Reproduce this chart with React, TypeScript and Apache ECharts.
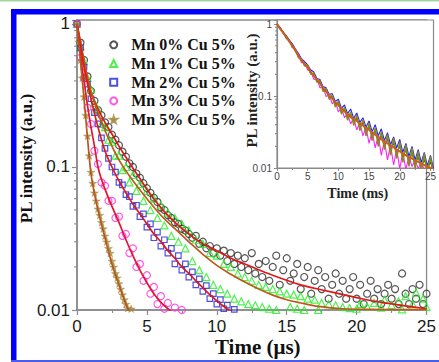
import React, { useEffect, useRef } from 'react';
import * as echarts from 'echarts';

const SANS = '"Liberation Sans", Arial, sans-serif';
const SERIF = '"Liberation Serif", "Times New Roman", serif';

const LEGEND_NAMES = ['Mn 0% Cu 5%', 'Mn 1% Cu 5%', 'Mn 2% Cu 5%', 'Mn 3% Cu 5%', 'Mn 5% Cu 5%'];

// main plot: time (µs)
const T_MAIN = [0, 0.25, 0.5, 0.75, 1, 1.25, 1.5, 1.75, 2, 2.25, 2.5, 2.75, 3, 3.25, 3.5, 3.75, 4, 4.25, 4.5, 4.75,
  5, 5.25, 5.5, 5.75, 6, 6.25, 6.5, 6.75, 7, 7.25, 7.5, 7.75, 8, 8.25, 8.5, 8.75, 9, 9.25, 9.5, 9.75,
  10, 10.25, 10.5, 10.75, 11, 11.25, 11.5, 11.75, 12, 12.25, 12.5, 12.75, 13, 13.25, 13.5, 13.75, 14, 14.25, 14.5, 14.75,
  15, 15.25, 15.5, 15.75, 16, 16.25, 16.5, 16.75, 17, 17.25, 17.5, 17.75, 18, 18.25, 18.5, 18.75, 19, 19.25, 19.5, 19.75,
  20, 20.25, 20.5, 20.75, 21, 21.25, 21.5, 21.75, 22, 22.25, 22.5, 22.75, 23, 23.25, 23.5, 23.75, 24, 24.25, 24.5, 24.75, 25];

const MN0 = [1.0, 0.74, 0.56, 0.43, 0.34, 0.29, 0.25, 0.23, 0.205, 0.19, 0.168, 0.155, 0.142, 0.128, 0.118, 0.106, 0.1, 0.09, 0.084, 0.077,
  0.071, 0.066, 0.061, 0.057, 0.052, 0.05, 0.046, 0.044, 0.041, 0.04, 0.037, 0.036, 0.034, 0.032, 0.033, 0.029, 0.03, 0.027, 0.028, 0.025,
  0.027, 0.024, 0.026, 0.022, 0.025, 0.021, 0.024, 0.02, 0.023, 0.019, 0.025, 0.018, 0.021, 0.017, 0.022, 0.016, 0.02, 0.024, 0.015, 0.019,
  0.023, 0.016, 0.018, 0.021, 0.014, 0.017, 0.02, 0.013, 0.016, 0.019, 0.014, 0.017, 0.012, 0.015, 0.018, 0.013, 0.016, 0.012, 0.014, 0.017,
  0.012, 0.015, 0.011, 0.013, 0.016, 0.012, 0.014, 0.011, 0.013, 0.015, 0.012, 0.014, 0.011, 0.018, 0.013, 0.011, 0.014, 0.012, 0.015, 0.011, 0.013];

const MN1 = [1.0, 0.7, 0.55, 0.42, 0.35, 0.28, 0.25, 0.2, 0.19, 0.155, 0.15, 0.12, 0.12, 0.095, 0.1, 0.078, 0.088, 0.068, 0.076, 0.058,
  0.068, 0.05, 0.06, 0.044, 0.054, 0.039, 0.048, 0.033, 0.044, 0.03, 0.04, 0.027, 0.036, 0.022, 0.031, 0.019, 0.029, 0.017, 0.025, 0.015,
  0.024, 0.014, 0.021, 0.013, 0.02, 0.012, 0.018, 0.0115, 0.017, 0.011, 0.016, 0.0108, 0.015, 0.0105, 0.0145, 0.0102, 0.014, 0.01, 0.0135, 0.0099,
  0.013, 0.0105, 0.0128, 0.0102, 0.0125, 0.01, 0.012, 0.0098, 0.0118, 0.01, 0.0112, 0.0097, 0.011, 0.0098, 0.0108, 0.0096, 0.0105, 0.0099, 0.0103, 0.0096,
  0.0102, 0.011, 0.0097, 0.0106, 0.0099, 0.0112, 0.0096, 0.0104, 0.0118, 0.0098, 0.0108, 0.0097, 0.0115, 0.0101, 0.0125, 0.0098, 0.011, 0.0132, 0.0099, 0.012, 0.0105];

const MN2 = [1, 0.68, 0.5, 0.38, 0.3, 0.24, 0.2, 0.16, 0.135, 0.115, 0.1, 0.092, 0.078, 0.075, 0.064, 0.062, 0.053, 0.054, 0.045, 0.047,
  0.038, 0.04, 0.032, 0.035, 0.028, 0.031, 0.025, 0.027, 0.021, 0.024, 0.019, 0.021, 0.017, 0.0185, 0.015, 0.0165, 0.0135, 0.0148, 0.012, 0.013,
  0.011, 0.0118, 0.0102, 0.0108, 0.0098, 0.0101];

const MN3 = [1, 0.58, 0.42, 0.26, 0.2, 0.13, 0.105, 0.078, 0.074, 0.058, 0.058, 0.044, 0.045, 0.033, 0.034, 0.025, 0.027, 0.02, 0.021, 0.016,
  0.0175, 0.013, 0.0145, 0.011, 0.0125, 0.0102, 0.0112, 0.0098, 0.0104, 0.0097, 0.01];

const T_STAR = [0, 0.125, 0.25, 0.375, 0.5, 0.625, 0.75, 0.875, 1, 1.125, 1.25, 1.375, 1.5, 1.625, 1.75, 1.875, 2, 2.125, 2.25, 2.375,
  2.5, 2.625, 2.75, 2.875, 3, 3.125, 3.25, 3.375, 3.5, 3.625, 3.75, 3.875, 4];
const MN5 = [1, 0.75, 0.56, 0.42, 0.31, 0.23, 0.165, 0.12, 0.092, 0.077, 0.066, 0.058, 0.051, 0.046, 0.041, 0.037, 0.033, 0.03, 0.027, 0.025,
  0.022, 0.02, 0.018, 0.0168, 0.0153, 0.014, 0.0128, 0.0118, 0.011, 0.0103, 0.0097, 0.0102, 0.0098];

// fitted curves
const FIT0_T = [0, 0.25, 0.5, 0.75, 1, 1.5, 2, 2.5, 3, 3.5, 4, 4.5, 5, 6, 7, 8, 9, 10, 11, 12, 14, 16, 18, 20, 22, 25];
const FIT0_V = [1, 0.75, 0.55, 0.42, 0.33, 0.255, 0.205, 0.17, 0.14, 0.117, 0.098, 0.083, 0.07, 0.052, 0.041, 0.034, 0.029, 0.026, 0.023, 0.021, 0.0175, 0.015, 0.0135, 0.0122, 0.0112, 0.0102];
const FIT1_T = [0, 0.5, 1, 1.5, 2, 2.5, 3, 3.5, 4, 5, 6, 7, 8, 9, 10, 11, 12, 13, 14, 15, 16, 17, 18, 19, 21, 25];
const FIT1_V = [1, 0.55, 0.34, 0.24, 0.18, 0.14, 0.112, 0.094, 0.08, 0.06, 0.046, 0.037, 0.03, 0.0245, 0.0205, 0.0178, 0.0157, 0.014, 0.0127, 0.0118, 0.0112, 0.0107, 0.0104, 0.0102, 0.0101, 0.01005];
const FIT2_T = [0, 0.5, 1, 1.5, 2, 2.5, 3, 3.5, 4, 4.5, 5, 5.5, 6, 6.5, 7, 7.5, 8, 8.5, 9, 9.5, 10, 10.5, 11, 11.5];
const FIT2_V = [1, 0.5, 0.3, 0.19, 0.13, 0.1, 0.08, 0.066, 0.055, 0.047, 0.04, 0.034, 0.03, 0.026, 0.023, 0.02, 0.018, 0.016, 0.0143, 0.0128, 0.0116, 0.0106, 0.0098, 0.0092];
const FIT3_T = [0, 0.25, 0.5, 0.75, 1, 1.25, 1.5, 1.75, 2, 2.5, 3, 3.5, 4, 4.5, 5, 5.5, 6, 6.5, 7, 7.5];
const FIT3_V = [1, 0.6, 0.4, 0.27, 0.19, 0.14, 0.1, 0.082, 0.07, 0.053, 0.041, 0.031, 0.024, 0.019, 0.0155, 0.013, 0.0113, 0.0102, 0.0094, 0.0088];
const FIT5_T = [0, 0.25, 0.5, 0.75, 1, 1.25, 1.5, 2, 2.5, 3, 3.5, 3.75, 4];
const FIT5_V = [1, 0.55, 0.3, 0.16, 0.09, 0.065, 0.05, 0.032, 0.021, 0.015, 0.011, 0.0097, 0.0088];

// inset: time (ms)
const T_INSET = [0, 0.5, 1, 1.5, 2, 2.5, 3, 3.5, 4, 4.5, 5, 5.5, 6, 6.5, 7, 7.5, 8, 8.5, 9, 9.5, 10, 10.5, 11, 11.5, 12, 12.5,
  13, 13.5, 14, 14.5, 15, 15.5, 16, 16.5, 17, 17.5, 18, 18.5, 19, 19.5, 20, 20.5, 21, 21.5, 22, 22.5, 23, 23.5, 24, 24.5, 25, 25.5];
const INS_FIT = [1, 0.87, 0.76, 0.66, 0.58, 0.5, 0.43, 0.36, 0.31, 0.28, 0.25, 0.215, 0.19, 0.17, 0.15, 0.13, 0.115, 0.102, 0.092, 0.082, 0.074, 0.067, 0.061, 0.056, 0.051, 0.048,
  0.045, 0.042, 0.039, 0.036, 0.034, 0.031, 0.029, 0.027, 0.025, 0.0235, 0.022, 0.0207, 0.0194, 0.018, 0.017, 0.016, 0.015, 0.0142, 0.0135, 0.0128, 0.0122, 0.0116, 0.011, 0.0105, 0.01, 0.0096];
const INS_MN0 = [1, 0.87, 0.77, 0.65, 0.59, 0.49, 0.44, 0.35, 0.32, 0.27, 0.26, 0.205, 0.2, 0.16, 0.155, 0.125, 0.12, 0.097, 0.096, 0.078, 0.078, 0.063, 0.065, 0.052, 0.055, 0.044,
  0.048, 0.039, 0.042, 0.033, 0.037, 0.028, 0.032, 0.024, 0.028, 0.021, 0.025, 0.018, 0.022, 0.016, 0.02, 0.014, 0.018, 0.0125, 0.016, 0.0115, 0.0142, 0.0105, 0.013, 0.0098, 0.012, 0.0092];
const INS_MN1 = [1, 0.86, 0.75, 0.65, 0.57, 0.49, 0.44, 0.35, 0.32, 0.27, 0.255, 0.205, 0.195, 0.16, 0.155, 0.122, 0.12, 0.095, 0.097, 0.076, 0.079, 0.061, 0.066, 0.05, 0.056, 0.043,
  0.05, 0.037, 0.044, 0.031, 0.039, 0.027, 0.034, 0.023, 0.03, 0.02, 0.027, 0.017, 0.024, 0.015, 0.021, 0.0135, 0.019, 0.012, 0.017, 0.011, 0.0155, 0.0102, 0.014, 0.0097, 0.013, 0.0093];
const INS_MN2 = [1, 0.9, 0.77, 0.69, 0.6, 0.53, 0.45, 0.39, 0.33, 0.3, 0.27, 0.23, 0.215, 0.175, 0.17, 0.135, 0.13, 0.105, 0.108, 0.084, 0.09, 0.068, 0.075, 0.057, 0.066, 0.049,
  0.058, 0.043, 0.05, 0.037, 0.045, 0.032, 0.04, 0.028, 0.035, 0.024, 0.031, 0.021, 0.027, 0.019, 0.025, 0.0165, 0.022, 0.0145, 0.02, 0.013, 0.018, 0.012, 0.0165, 0.0108, 0.015, 0.0098];
const INS_MN3 = [1, 0.88, 0.74, 0.67, 0.56, 0.51, 0.41, 0.37, 0.29, 0.29, 0.23, 0.22, 0.17, 0.175, 0.13, 0.135, 0.098, 0.105, 0.078, 0.085, 0.06, 0.069, 0.05, 0.057, 0.041, 0.049,
  0.034, 0.043, 0.028, 0.037, 0.022, 0.032, 0.019, 0.028, 0.015, 0.024, 0.013, 0.021, 0.011, 0.0185, 0.0098, 0.0165, 0.0095, 0.0145, 0.0105, 0.013, 0.0098, 0.012, 0.0095, 0.0108, 0.0092, 0.0098];
const INS_MN5 = [1, 0.85, 0.78, 0.63, 0.6, 0.47, 0.45, 0.34, 0.33, 0.26, 0.27, 0.2, 0.21, 0.155, 0.165, 0.115, 0.128, 0.09, 0.104, 0.07, 0.085, 0.056, 0.07, 0.046, 0.06, 0.039,
  0.054, 0.033, 0.047, 0.028, 0.042, 0.024, 0.036, 0.02, 0.032, 0.018, 0.029, 0.015, 0.026, 0.0135, 0.023, 0.012, 0.021, 0.0105, 0.019, 0.0098, 0.017, 0.009, 0.016, 0.0085, 0.0145, 0.008];

const MINOR_Y = [0.02, 0.03, 0.04, 0.05, 0.06, 0.07, 0.08, 0.09, 0.2, 0.3, 0.4, 0.5, 0.6, 0.7, 0.8, 0.9];

const zip = (t: number[], v: number[]) => v.map((y, i) => [t[i], y]);

const powLabel = (v: number) => {
  const l = Math.log10(v);
  return Math.abs(l - Math.round(l)) < 1e-6 ? String(+v.toPrecision(1)) : '';
};

const AXIS_GRAY = '#8a8a8a';
const STAR = 'path://M50,0 L61,35 L98,35 L68,57 L79,91 L50,70 L21,91 L32,57 L2,35 L39,35 Z';

export default function App() {
  const ref = useRef<HTMLDivElement>(null);
  useEffect(() => {
    const chart = echarts.init(ref.current!, null, { renderer: 'svg' });

    const scatter = (name: string, data: number[][], symbol: string, size: number, color: string, filled = false) => ({
      type: 'scatter', name, data, xAxisIndex: 0, yAxisIndex: 0, symbol, symbolSize: size, symbolKeepAspect: true, z: 2,
      itemStyle: filled ? { color, borderColor: color, borderWidth: 0.5 } : { color: 'rgba(255,255,255,0)', borderColor: color, borderWidth: 1.2 },
    });
    const fit = (name: string, data: number[][], color: string) => ({
      type: 'line', name, data, xAxisIndex: 0, yAxisIndex: 0, showSymbol: false, smooth: 0.4, z: 3,
      lineStyle: { color, width: 1.7 },
    });
    const insetLine = (name: string, data: number[][], color: string, width = 1.1) => ({
      type: 'line', name, data, xAxisIndex: 1, yAxisIndex: 1, showSymbol: false, z: 4,
      lineStyle: { color, width },
    });
    const minorTicks = (axis: number, len: number) => ({
      type: 'custom', xAxisIndex: axis, yAxisIndex: axis, clip: false, z: 5, silent: true,
      data: MINOR_Y.map((v) => [0, v]),
      renderItem: (_p: any, api: any) => {
        const p = api.coord([0, api.value(1)]);
        return { type: 'line', shape: { x1: p[0] - len, y1: p[1], x2: p[0], y2: p[1] }, style: { stroke: AXIS_GRAY, lineWidth: 1.1 } };
      },
    });

    const option: any = {
      animation: false,
      backgroundColor: '#fff',
      grid: [
        { left: 77, top: 20, width: 356, height: 291, show: true, borderColor: AXIS_GRAY, borderWidth: 1.3, backgroundColor: 'rgba(0,0,0,0)' },
        { left: 277, top: 20, width: 159, height: 148, show: true, borderColor: AXIS_GRAY, borderWidth: 1.2, backgroundColor: '#fff' },
      ],
      legend: {
        data: LEGEND_NAMES, orient: 'vertical', left: 109.2, top: 36.8, padding: 0,
        itemWidth: 7, itemHeight: 7, itemGap: 2.7,
        formatter: (n: string) => `{g|}${n}`,
        textStyle: {
          fontFamily: SERIF, fontWeight: 'bold', fontSize: 16, lineHeight: 16, color: '#111',
          rich: { g: { width: 9 } },
        },
      },
      xAxis: [
        {
          type: 'value', gridIndex: 0, min: 0, max: 25, interval: 5,
          axisLine: { onZero: false, lineStyle: { color: AXIS_GRAY, width: 1.6 } },
          axisTick: { length: 5, lineStyle: { color: AXIS_GRAY, width: 1.2 } },
          minorTick: { show: true, splitNumber: 2, length: 3, lineStyle: { color: AXIS_GRAY, width: 1.1 } },
          splitLine: { show: false },
          axisLabel: { fontFamily: SANS, fontSize: 17, color: '#1a1a1a', margin: 8 },
          name: 'Time (μs)', nameLocation: 'middle', nameGap: 26, nameMoveOverlap: false,
          nameTextStyle: { fontFamily: SERIF, fontWeight: 'bold', fontSize: 21, color: '#111', padding: [0, 0, 0, 12] },
        },
        {
          type: 'value', gridIndex: 1, min: 0, max: 25.5, interval: 5,
          axisLine: { onZero: false, lineStyle: { color: AXIS_GRAY, width: 1.2 } },
          axisTick: { length: 3, lineStyle: { color: AXIS_GRAY, width: 1 } },
          minorTick: { show: true, splitNumber: 2, length: 2, lineStyle: { color: AXIS_GRAY, width: 1 } },
          splitLine: { show: false },
          axisLabel: { fontFamily: SANS, fontSize: 10, color: '#444', margin: 3, formatter: (v: number) => (v % 5 === 0 ? String(v) : '') },
          name: 'Time (ms)', nameLocation: 'middle', nameGap: 18, nameMoveOverlap: false,
          nameTextStyle: { fontFamily: SERIF, fontWeight: 'bold', fontSize: 14, color: '#222', padding: [0, 0, 0, 5] },
        },
      ],
      yAxis: [
        {
          type: 'log', logBase: 10, gridIndex: 0, min: 0.01, max: 1.066,
          axisLine: { show: true, lineStyle: { color: AXIS_GRAY, width: 1.6 } },
          axisTick: { show: true, length: 5, lineStyle: { color: AXIS_GRAY, width: 1.2 } },
          splitLine: { show: false },
          axisLabel: { fontFamily: SANS, fontSize: 17, color: '#1a1a1a', margin: 7, formatter: powLabel },
          name: 'PL intensity (a.u.)', nameLocation: 'middle', nameGap: 42.5, nameRotate: 90, nameMoveOverlap: false,
          nameTextStyle: { fontFamily: SERIF, fontWeight: 'bold', fontSize: 17, color: '#111', padding: [0, 0, 0, 13] },
        },
        {
          type: 'log', logBase: 10, gridIndex: 1, min: 0.01, max: 1.137,
          axisLine: { show: true, lineStyle: { color: AXIS_GRAY, width: 1.2 } },
          axisTick: { show: true, length: 3, lineStyle: { color: AXIS_GRAY, width: 1 } },
          splitLine: { show: false },
          axisLabel: { fontFamily: SANS, fontSize: 10, color: '#444', margin: 5, formatter: powLabel },
          name: 'PL intensity (a.u.)', nameLocation: 'middle', nameGap: 18, nameRotate: 90, nameMoveOverlap: false,
          nameTextStyle: { fontFamily: SERIF, fontWeight: 'bold', fontSize: 15, color: '#222', padding: [0, 0, 0, 7] },
        },
      ],
      series: [
        scatter(LEGEND_NAMES[0], zip(T_MAIN, MN0), 'circle', 7, '#2b2b2b'),
        scatter(LEGEND_NAMES[1], zip(T_MAIN, MN1), 'triangle', 7, '#22ee22'),
        scatter(LEGEND_NAMES[2], zip(T_MAIN, MN2), 'rect', 5.5, '#2222d8'),
        scatter(LEGEND_NAMES[3], zip(T_MAIN, MN3), 'circle', 7, '#ff2ee0'),
        scatter(LEGEND_NAMES[4], zip(T_STAR, MN5), STAR, 8, '#a08a3c', true),
        fit('fit0', zip(FIT0_T, FIT0_V), '#e01818'),
        fit('fit1', zip(FIT1_T, FIT1_V), '#c0581a'),
        fit('fit2', zip(FIT2_T, FIT2_V), '#e01818'),
        fit('fit3', zip(FIT3_T, FIT3_V), '#e01830'),
        fit('fit5', zip(FIT5_T, FIT5_V), '#b8561c'),
        minorTicks(0, 3),
        insetLine('i0', zip(T_INSET, INS_MN0), '#333333'),
        insetLine('i1', zip(T_INSET, INS_MN1), '#22cc22'),
        insetLine('i2', zip(T_INSET, INS_MN2), '#2222ff'),
        insetLine('i3', zip(T_INSET, INS_MN3), '#ff22ff'),
        insetLine('i5', zip(T_INSET, INS_MN5), '#8c8a10', 1.4),
        insetLine('ifit', zip(T_INSET, INS_FIT), '#c8601c', 2),
        minorTicks(1, 2),
      ],
      graphic: [
        { type: 'rect', shape: { x: 0, y: 0, width: 439, height: 1.5 }, style: { fill: '#a3d3a3' } },
        { type: 'rect', shape: { x: 11, y: 9, width: 428, height: 5.5 }, style: { fill: '#0000ff' } },
        { type: 'rect', shape: { x: 11, y: 9, width: 5.5, height: 353 }, style: { fill: '#0000ff' } },
        { type: 'rect', shape: { x: 11, y: 360, width: 428, height: 2 }, style: { fill: '#4a5cf0' } },
      ],
    };
    chart.setOption(option);
    return () => chart.dispose();
  }, []);
  return <div ref={ref} style={{ position: 'fixed', left: 0, top: 0, width: 439, height: 362, background: '#fff' }} />;
}
